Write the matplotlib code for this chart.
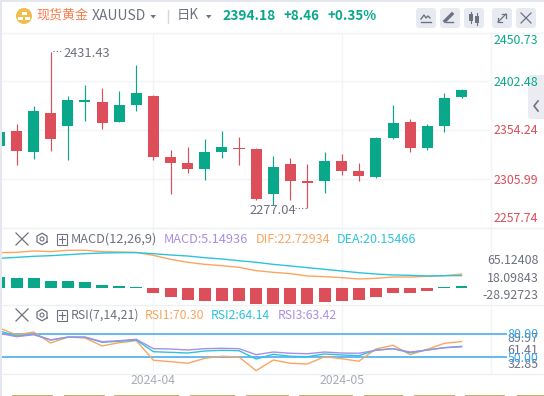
import matplotlib
matplotlib.use("Agg")
import matplotlib.pyplot as plt
import matplotlib.patches as mpatches
import numpy as np

plt.rcParams["font.family"] = ["Noto Sans CJK SC", "DejaVu Sans"]

W, H = 544, 396

# candles
opens = [2338.0, 2352.9, 2332.1, 2370.8, 2357.9, 2382.4, 2381.7, 2361.8, 2378.7, 2387.6, 2327.1, 2321.2, 2315.2, 2332.1, 2336.1, 2335.1, 2290.5, 2320.2, 2303.3, 2303.3, 2323.2, 2313.3, 2307.3, 2346.0, 2361.8, 2336.1, 2357.9, 2386.6]
closes = [2351.9, 2333.1, 2372.8, 2345.0, 2383.6, 2383.0, 2360.8, 2378.7, 2390.6, 2327.1, 2321.2, 2315.2, 2332.1, 2337.1, 2335.1, 2285.5, 2317.2, 2303.3, 2301.4, 2323.2, 2313.3, 2308.3, 2346.0, 2360.8, 2336.1, 2357.9, 2385.6, 2394.18]
highs = [2358.9, 2359.8, 2377.7, 2431.43, 2387.6, 2398.5, 2395.5, 2392.6, 2418.3, 2388.6, 2334.1, 2337.1, 2345.0, 2352.9, 2347.0, 2336.1, 2328.1, 2326.2, 2320.2, 2332.1, 2330.1, 2321.2, 2347.0, 2378.7, 2364.8, 2359.8, 2390.6, 2394.5]
lows = [2335.1, 2319.2, 2325.2, 2333.1, 2324.2, 2362.8, 2354.9, 2361.8, 2372.8, 2324.2, 2290.5, 2311.3, 2304.3, 2326.2, 2319.2, 2284.5, 2280.5, 2284.5, 2277.04, 2291.5, 2309.3, 2303.3, 2306.3, 2345.0, 2332.1, 2334.1, 2351.9, 2385.6]

# MACD
dif = [58.4, 58.9, 61.2, 60.1, 62.3, 62.3, 60.1, 59.5, 58.9, 53.9, 47.3, 42.3, 38.9, 36.7, 33.9, 28.4, 25.6, 23.4, 19.5, 18.4, 16.7, 14.5, 15.6, 17.8, 17.8, 18.9, 20.0, 22.73]
dea = [49.0, 50.6, 52.3, 53.4, 55.0, 56.7, 57.8, 58.4, 58.4, 56.7, 54.5, 52.8, 50.0, 47.8, 45.0, 42.3, 38.9, 36.2, 33.4, 30.6, 27.8, 25.0, 22.8, 21.2, 20.6, 19.5, 20.0, 20.15]
hist = [18.3, 15.6, 16.1, 11.1, 11.1, 9.4, 4.4, 2.8, 1.1, -8.9, -15.6, -20.6, -22.2, -22.2, -22.2, -26.7, -26.7, -27.2, -27.2, -23.9, -22.8, -20.6, -15.6, -8.9, -8.9, -5.6, 0.6, 3.0]

# RSI
rsi1 = [87.7, 78.7, 82.6, 68.4, 76.1, 74.9, 64.6, 68.8, 71.4, 46.2, 44.4, 42.3, 48.7, 51.3, 50.4, 32.8, 46.5, 42.3, 41.4, 50.8, 48.2, 44.9, 60.7, 65.5, 53.4, 60.3, 68.0, 70.3]
rsi2 = [83.9, 77.4, 79.6, 72.3, 75.8, 75.8, 69.3, 70.6, 72.3, 57.2, 56.4, 55.5, 58.1, 59.0, 58.5, 47.8, 53.9, 51.3, 50.8, 54.3, 53.0, 52.1, 59.4, 61.1, 55.9, 59.4, 62.4, 64.14]
rsi3 = [80.9, 76.5, 79.1, 72.3, 76.1, 76.1, 70.1, 71.4, 73.2, 61.1, 60.7, 59.4, 61.1, 61.6, 61.1, 53.4, 56.8, 55.2, 54.6, 56.8, 55.5, 55.2, 59.0, 61.1, 56.8, 59.4, 62.4, 63.42]

price_ticks = [2450.73, 2402.48, 2354.24, 2305.99, 2257.74]
month_idx = [9, 20]
month_labels = ["2024-04", "2024-05"]

GREEN = "#0aa88a"
RED = "#dc4e5a"
ORANGE = "#f8a660"
CYAN = "#2cc3dc"
PURPLE = "#a98ee6"
BLUE = "#3aa6f2"
GRAY = "#6e7180"
GRID = "#f3f4f7"
BTN = "#e8eaf1"

X0, DX = -0.6, 17.115


def add_panel(top, bottom, right=490):
    ax = fig.add_axes([2 / W, 1 - bottom / H, (right - 2) / W, (bottom - top) / H])
    ax.set_xlim((2 - X0) / DX, (right - X0) / DX)
    ax.patch.set_alpha(0)
    for s in ax.spines.values():
        s.set_visible(False)
    ax.set_xticks(month_idx)
    ax.set_xticklabels([])
    ax.tick_params(length=0, labelleft=False, left=False)
    ax.grid(axis="x", color=GRID, lw=1)
    ax.set_axisbelow(True)
    return ax


fig = plt.figure(figsize=(W / 100, H / 100), dpi=100, facecolor="white")

# page background and header, in pixels
bg = fig.add_axes([0, 0, 1, 1], zorder=0)
bg.set_xlim(0, W)
bg.set_ylim(H, 0)
bg.axis("off")
bg.add_patch(mpatches.Rectangle((0, 0), W, 2, color="#e4e7ee", lw=0))
bg.add_patch(mpatches.Rectangle((0, 0), 2, H, color="#e4e7ee", lw=0))
bg.plot([2, W], [32.5, 32.5], color=GRID, lw=1)
bg.plot([490.5, 490.5], [33, 373], color=GRID, lw=1)
bg.plot([2, 544], [228, 228], color="#eff0f3", lw=1)
bg.plot([2, 544], [304.5, 304.5], color="#eff0f3", lw=1)
bg.plot([2, 544], [373.5, 373.5], color="#eff0f3", lw=1)

# main candles
ax = add_panel(32.5, 227.5)
ax.set_ylim(price_ticks[-1], price_ticks[0])
ax.set_yticks(price_ticks)
ax.grid(axis="y", color=GRID, lw=1)
x = np.arange(len(opens))
for i in x:
    col = GREEN if closes[i] >= opens[i] else RED
    ax.vlines(i, lows[i], highs[i], color=col, lw=0.85)
    h = max(abs(closes[i] - opens[i]), 1.4)
    ax.bar(i, h, bottom=min(opens[i], closes[i]), width=0.645, color=col, lw=0)

# MACD
ax2 = add_panel(228, 304)
ax2.set_ylim(-27.2, 99.5)
ax2.bar(x, hist, width=0.7, color=[GREEN if v > 0 else RED for v in hist], lw=0)
ax2.plot(x, dif, color=ORANGE, lw=1)
ax2.plot(x, dea, color=CYAN, lw=1)

# RSI
ax3 = add_panel(304, 373, right=507)
ax3.set_ylim(29.8, 118.6)
ax3.axhline(80, color=BLUE, lw=1.1, zorder=1)
ax3.axhline(50, color=BLUE, lw=1.1, zorder=1)
ax3.plot(x, rsi1, color=ORANGE, lw=1)
ax3.plot(x, rsi2, color=CYAN, lw=1)
ax3.plot(x, rsi3, color=PURPLE, lw=1)

# texts and icons on top
top = fig.add_axes([0, 0, 1, 1], zorder=5)
top.set_xlim(0, W)
top.set_ylim(H, 0)
top.axis("off")
top.patch.set_alpha(0)


def txt(x, y, s, color=GRAY, size=8.9, ha="left", **kw):
    top.text(x, y, s, color=color, fontsize=size, ha=ha, va="center", **kw)


def btn(x0):
    top.add_patch(mpatches.FancyBboxPatch((x0 + 3, 11), 14, 14, boxstyle="round,pad=3,rounding_size=3",
                                          fc=BTN, ec="none"))


# right side collapse tab
top.add_patch(mpatches.FancyBboxPatch((531, 78), 20, 38, boxstyle="round,pad=3,rounding_size=3", fc="#ebecf2", ec="none", zorder=0))
top.plot([538, 534, 538], [101, 106, 111], color="#6f7280", lw=1.2)

# coin logo
top.add_patch(plt.Circle((24, 16), 8, color="#f1bd4b", lw=0))
top.add_patch(mpatches.Rectangle((21.5, 11.5), 5, 3, color="white", lw=0))
top.add_patch(mpatches.Rectangle((18, 16.5), 5, 3, color="white", lw=0))
top.add_patch(mpatches.Rectangle((25, 16.5), 5, 3, color="white", lw=0))

txt(36, 15.5, "现货黄金", color="#fb7d50", size=9.4)
txt(91.5, 16.5, "XAUUSD", size=10)
top.fill([150.5, 156, 153.2], [15, 15, 18.5], color=GRAY, lw=0)
top.plot([167.5, 167.5], [10, 23], color="#d6d8e0", lw=1)
txt(177, 15.5, "日K", size=9.6)
top.fill([206, 211.5, 208.7], [15, 15, 18.5], color=GRAY, lw=0)
txt(222, 15.5, "2394.18", color=GREEN, size=9.9, fontweight="bold")
txt(283, 15.5, "+8.46", color=GREEN, size=9.6, fontweight="bold")
txt(328, 15.5, "+0.35%", color=GREEN, size=9.7, fontweight="bold")

for bx in [416, 440, 464, 492, 516]:
    btn(bx)
top.plot([421, 424, 426, 428, 430], [19, 15, 18, 16, 18], color=GRAY, lw=1)
top.plot([421, 431], [22, 22], color=GRAY, lw=1)
top.plot([446, 453], [22, 22], color=GRAY, lw=1)
top.plot([445, 452], [21, 14], color=GRAY, lw=2.4)
top.add_patch(mpatches.Rectangle((469, 14), 4, 7, color=GRAY, lw=0))
top.add_patch(mpatches.Rectangle((475, 16), 4, 7, color=GRAY, lw=0))
top.plot([471, 471], [12, 23], color=GRAY, lw=0.8)
top.plot([477, 477], [13, 25], color=GRAY, lw=0.8)
top.plot([498, 506], [22, 14], color=GRAY, lw=0.9)
top.plot([502, 506, 506], [14, 14, 18], color=GRAY, lw=0.9)
top.plot([498, 498, 502], [18, 22, 22], color=GRAY, lw=0.9)
top.plot([521, 531], [13, 23], color=GRAY, lw=0.9)
top.plot([521, 531], [23, 13], color=GRAY, lw=0.9)


def panel_icons(y):
    top.plot([16, 28], [y - 6, y + 6], color=GRAY, lw=0.9)
    top.plot([16, 28], [y + 6, y - 6], color=GRAY, lw=0.9)
    t = np.deg2rad(np.arange(30, 391, 60))
    top.plot(42 + 5.8 * np.cos(t), y + 5.8 * np.sin(t), color=GRAY, lw=0.9)
    top.add_patch(plt.Circle((42, y), 2, fc="none", ec=GRAY, lw=0.8))
    top.add_patch(mpatches.Rectangle((56.5, y - 5), 10.5, 10.5, fc="none", ec=GRAY, lw=0.8))
    top.plot([58.5, 65], [y + 0.2, y + 0.2], color=GRAY, lw=0.8)
    top.plot([61.8, 61.8], [y - 3, y + 3.5], color=GRAY, lw=0.8)


panel_icons(239)
panel_icons(315)
txt(71, 239.5, "MACD(12,26,9)", size=9.2)
txt(164, 239.5, "MACD:5.14936", color=PURPLE, size=9.2)
txt(256, 239.5, "DIF:22.72934", color=ORANGE, size=9)
txt(337, 239.5, "DEA:20.15466", color=CYAN, size=9)
txt(71, 315.5, "RSI(7,14,21)", size=8.9)
txt(145, 315.5, "RSI1:70.30", color=ORANGE, size=8.8)
txt(211, 315.5, "RSI2:64.14", color=CYAN, size=8.8)
txt(278, 315.5, "RSI3:63.42", color=PURPLE, size=8.8)

# price axis labels sit a little off their grid lines
price_label_y = [40.5, 82.5, 131, 180.5, 218]
for p, py in zip(price_ticks, price_label_y):
    txt(538.5, py, f"{p:.2f}", color=GREEN if p > 2394.18 else RED, ha="right")

txt(538.5, 261, "65.12408", ha="right")
txt(538.5, 278, "18.09843", ha="right")
txt(538.5, 295.5, "-28.92723", ha="right")
txt(538.5, 338.5, "89.97", ha="right")
txt(538.5, 351, "61.41", ha="right")
txt(538.5, 365, "32.85", ha="right")
txt(538.5, 334, "80.00", color=BLUE, ha="right")
txt(538.5, 358, "50.00", color=BLUE, ha="right")

txt(63, 53.5, "2431.43", size=9.3)
txt(249, 210, "2277.04", size=9.3)
top.plot([53, 62], [50.5, 50.5], color=GRAY, lw=0.8, ls=(0, (1, 2)))
top.plot([295, 307], [208, 208], color=GRAY, lw=0.8, ls=(0, (1, 2)))

for m, lab in zip(month_idx, month_labels):
    txt(X0 + DX * m, 381, lab, color="#a9abb9", size=8.8, ha="center")

# tabs cut off at the bottom edge
for a, b in [(12, 53), (64, 105), (114, 179), (190, 235), (246, 289), (299, 353), (364, 403), (414, 455), (465, 505), (517, 544)]:
    top.add_patch(mpatches.Rectangle((a, 394.7), b - a, 1.3, color="#d9a96a", lw=0))

fig.savefig("out.png", dpi=100)
